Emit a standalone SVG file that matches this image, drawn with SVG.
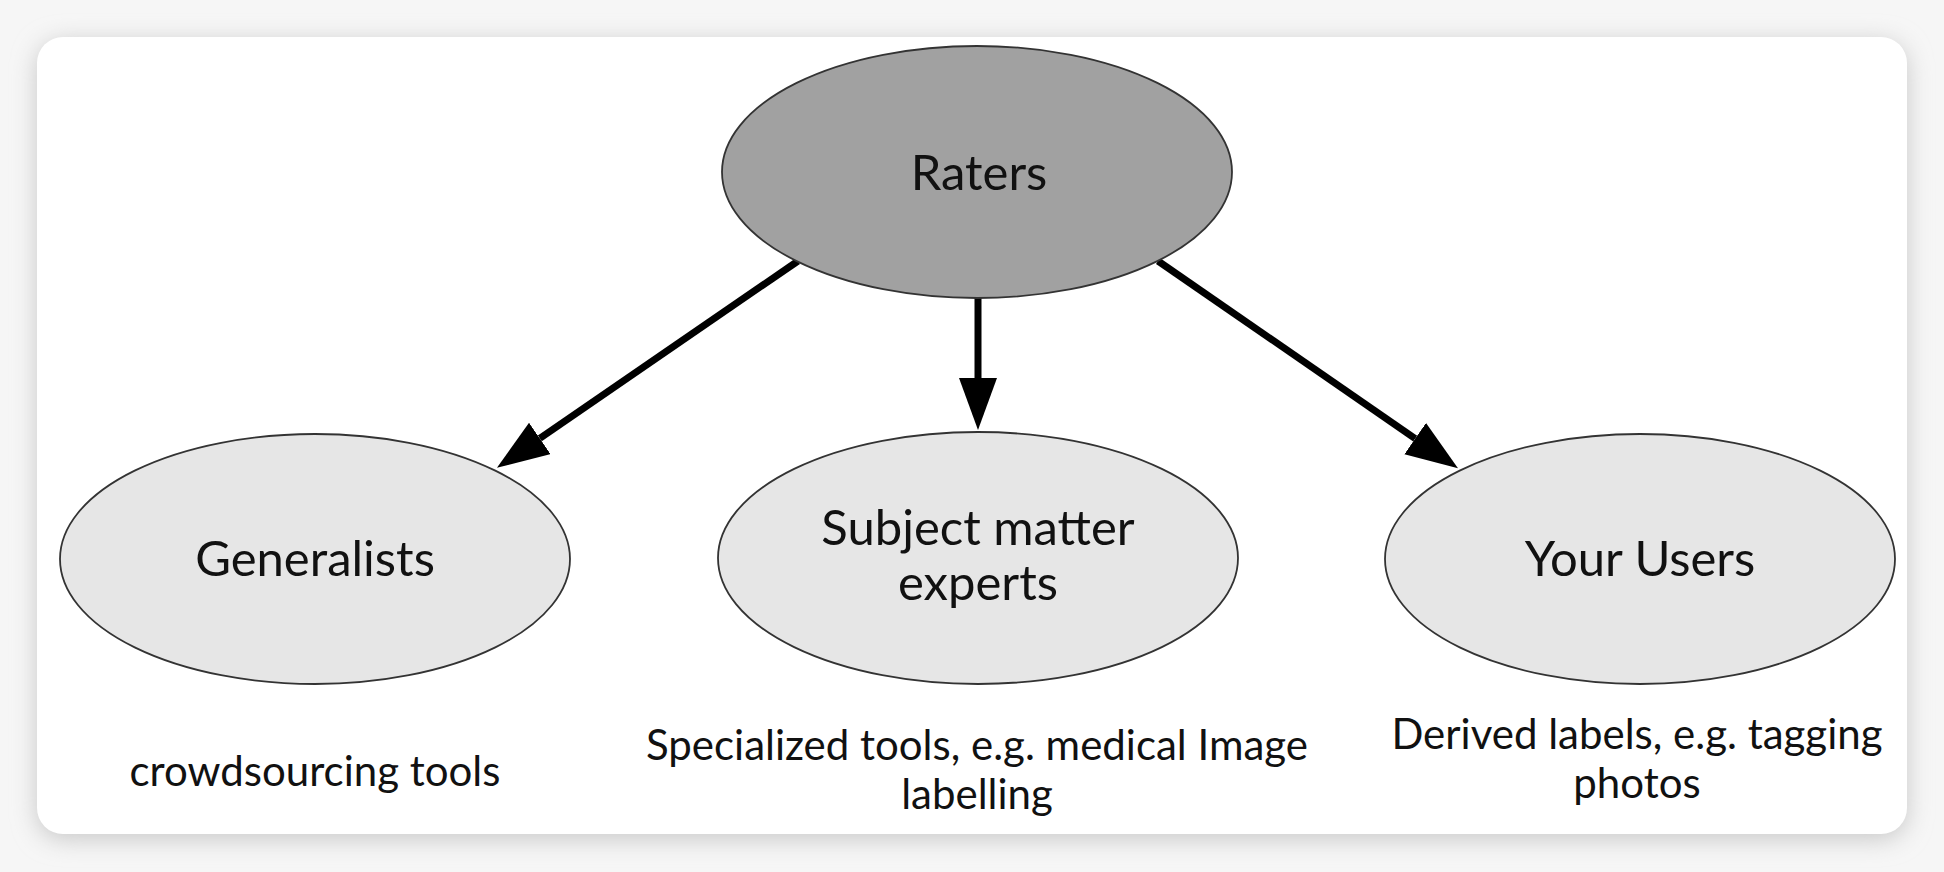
<svg xmlns="http://www.w3.org/2000/svg" width="1944" height="872" viewBox="0 0 1944 872">
  <style>
    .node { stroke: #333333; stroke-width: 1.8; }
    .root { fill: #a1a1a1; }
    .leaf { fill: #e6e6e6; }
    .lbl { font-family: Lato, "Open Sans", "Liberation Sans", sans-serif; font-size: 49px; fill: #111111; text-anchor: middle; }
    .note { font-family: Lato, "Open Sans", "Liberation Sans", sans-serif; font-size: 42px; fill: #111111; text-anchor: middle; }
    .edge { stroke: #000000; stroke-width: 7; fill: none; }
  </style>
  <defs>
    <filter id="shadow" x="-10%" y="-10%" width="120%" height="130%">
      <feGaussianBlur stdDeviation="12"/>
    </filter>
    <marker id="arrow" markerUnits="userSpaceOnUse" markerWidth="54" markerHeight="40" refX="0" refY="19" orient="auto">
      <path d="M0,0 L52,19 L0,38 Z" fill="#000000"/>
    </marker>
  </defs>

  <rect x="0" y="0" width="1944" height="872" fill="#f6f6f6"/>
  <rect x="37" y="42" width="1870" height="797" rx="26" fill="#c8c8c8" filter="url(#shadow)"/>
  <rect id="card" x="37" y="37" width="1870" height="797" rx="26" fill="#ffffff"/>

  <g id="connectors">
    <line class="edge" x1="798" y1="261" x2="539.8" y2="438.4" marker-end="url(#arrow)"/>
    <line class="edge" x1="978" y1="297" x2="978" y2="378" marker-end="url(#arrow)"/>
    <line class="edge" x1="1158" y1="261" x2="1415.2" y2="438.6" marker-end="url(#arrow)"/>
  </g>

  <g id="raters">
    <ellipse class="node root" cx="977" cy="172" rx="255" ry="126"/>
    <text class="lbl" x="979" y="190">Raters</text>
  </g>

  <g id="generalists">
    <ellipse class="node leaf" cx="315" cy="559" rx="255" ry="125"/>
    <text class="lbl" x="315" y="576">Generalists</text>
  </g>

  <g id="subject-matter-experts">
    <ellipse class="node leaf" cx="978" cy="558" rx="260" ry="126"/>
    <text class="lbl" x="978" y="545">Subject matter</text>
    <text class="lbl" x="978" y="600">experts</text>
  </g>

  <g id="your-users">
    <ellipse class="node leaf" cx="1640" cy="559" rx="255" ry="125"/>
    <text class="lbl" x="1640" y="576">Your Users</text>
  </g>

  <g id="note-generalists">
    <text class="note" x="315" y="786">crowdsourcing tools</text>
  </g>
  <g id="note-experts">
    <text class="note" x="977" y="760">Specialized tools, e.g. medical Image</text>
    <text class="note" x="977" y="809">labelling</text>
  </g>
  <g id="note-users">
    <text class="note" x="1637" y="749">Derived labels, e.g. tagging</text>
    <text class="note" x="1637" y="798">photos</text>
  </g>
</svg>
